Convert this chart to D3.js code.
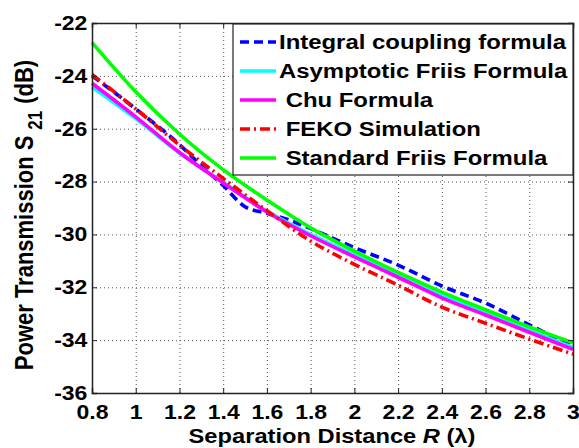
<!DOCTYPE html>
<html>
<head>
<meta charset="utf-8">
<script src="https://cdn.jsdelivr.net/npm/d3@7"></script>
<style>
  body { margin: 0; background: #fff; }
  svg text { font-family: "Liberation Sans", Arial, sans-serif; font-weight: bold; fill: #000; }
  .grid line { stroke: #555; stroke-dasharray: 1,3; stroke-width: 1; }
  .grid path { display: none; }
</style>
</head>
<body>
<div class="chart"></div>
<script>
// values
var distance = [0.8, 1.0, 1.2, 1.4, 1.6, 1.8, 2.0, 2.2, 2.4, 2.6, 2.8, 3.0];
var distanceIntegral = [0.8, 1.0, 1.2, 1.3, 1.4, 1.5, 1.6, 1.7, 1.8, 2.0, 2.2, 2.4, 2.6, 2.8, 3.0];

var integralCoupling = [-24.0, -25.25, -26.6, -27.4, -28.15, -28.95, -29.2, -29.45, -29.78, -30.5, -31.16, -31.95, -32.6, -33.42, -34.25];
var asymptoticFriis = [-24.42, -25.62, -26.92, -28.03, -29.12, -30.0, -30.78, -31.56, -32.32, -32.98, -33.63, -34.28];
var chuFormula = [-24.28, -25.55, -26.9, -28.05, -29.15, -30.05, -30.85, -31.62, -32.4, -33.05, -33.7, -34.35];
var fekoSim = [-23.95, -25.25, -26.62, -27.88, -29.1, -30.25, -31.13, -31.92, -32.75, -33.36, -33.96, -34.53];
var standardFriis = [-22.74, -24.6, -26.2, -27.55, -28.7, -29.75, -30.63, -31.44, -32.18, -32.85, -33.5, -34.1];

var xTicks = [0.8, 1, 1.2, 1.4, 1.6, 1.8, 2, 2.2, 2.4, 2.6, 2.8, 3];
var yTicks = [-36, -34, -32, -30, -28, -26, -24, -22];

var seriesNames = ["Integral coupling formula", "Asymptotic Friis Formula", " Chu Formula", " FEKO Simulation", " Standard Friis Formula"];

var margin = {top: 23, right: 6, bottom: 55, left: 92},
  width = 579 - margin.left - margin.right,
  height = 448 - margin.top - margin.bottom;

var stretch = 1.15; // the picture is a bit wider than tall

var svg = d3.select(".chart").append("svg").attr("width", 579).attr("height", 448)
  .append("g").attr("transform", "translate(" + margin.left + "," + margin.top + ")");

var x = d3.scaleLinear().domain([0.8, 3]).range([0, width]);
var y = d3.scaleLinear().domain([-36, -22]).range([height, 0]);

// grid
svg.append("g").attr("class", "grid").attr("transform", "translate(0," + height + ")")
  .call(d3.axisBottom(x).tickValues(xTicks.slice(1, -1)).tickSize(-height).tickFormat(""));
svg.append("g").attr("class", "grid")
  .call(d3.axisLeft(y).tickValues(yTicks.slice(1, -1)).tickSize(-width).tickFormat(""));

var lines = [
  {xs: distanceIntegral, ys: integralCoupling, color: "#0000ff", dash: "9,5"},
  {xs: distance, ys: asymptoticFriis, color: "#00ffff", dash: null},
  {xs: distance, ys: chuFormula, color: "#ff00ff", dash: null},
  {xs: distance, ys: fekoSim, color: "#ff0000", dash: "10,4,2,4"},
  {xs: distance, ys: standardFriis, color: "#00ff00", dash: null}
];

var line = d3.line().curve(d3.curveMonotoneX)
  .x(function(d) { return x(d[0]); })
  .y(function(d) { return y(d[1]); });

lines.forEach(function(s) {
  svg.append("path")
    .datum(s.xs.map(function(v, i) { return [v, s.ys[i]]; }))
    .attr("fill", "none").attr("stroke", s.color).attr("stroke-width", 3.6)
    .attr("stroke-dasharray", s.dash)
    .attr("d", line);
});

// box with inward ticks on all sides
var bottom = svg.append("g").attr("transform", "translate(0," + height + ")")
  .call(d3.axisBottom(x).tickValues(xTicks).tickSize(-5).tickPadding(9).tickFormat(function(d) { return String(d); }));
var left = svg.append("g")
  .call(d3.axisLeft(y).tickValues(yTicks).tickSize(-5).tickPadding(4).tickFormat(function(d) { return String(d); }));
svg.append("g").call(d3.axisTop(x).tickValues(xTicks).tickSize(-5).tickFormat(""));
svg.append("g").attr("transform", "translate(" + width + ",0)")
  .call(d3.axisRight(y).tickValues(yTicks).tickSize(-5).tickFormat(""));

svg.selectAll(".domain").attr("stroke", "#222").attr("stroke-width", 1.5);
svg.selectAll(".tick line").filter(function() { return !this.closest(".grid"); }).attr("stroke", "#222");

bottom.selectAll("text").style("font-size", "20px").attr("dy", "0.85em")
  .attr("transform", "scale(" + stretch + ",1)");
left.selectAll("text").style("font-size", "20px")
  .attr("transform", "scale(" + stretch + ",1)");

// axis titles
var xl = svg.append("text").attr("text-anchor", "middle")
  .attr("transform", "translate(" + (width / 2 - 0.5) + "," + (height + 50) + ") scale(" + stretch + ",1)")
  .style("font-size", "20.6px");
xl.append("tspan").text("Separation Distance ");
xl.append("tspan").style("font-style", "italic").text("R");
xl.append("tspan").text(" (\u03bb)");

var yl = svg.append("text").attr("text-anchor", "middle")
  .attr("transform", "translate(" + (-59) + "," + (height / 2 + 7) + ") scale(" + stretch + ",1) rotate(-90)")
  .style("font-size", "22px");
yl.append("tspan").text("Power Transmission S");
yl.append("tspan").attr("dy", 8).attr("dx", 6).style("font-size", "17px").text("21");
yl.append("tspan").attr("dy", -8).attr("dx", 7).text("(dB)");

// legend
var lg = svg.append("g").attr("transform", "translate(" + (x(0.8) + 141) + ",1)");
lg.append("rect").attr("width", width - 141).attr("height", 151)
  .attr("fill", "#fff").attr("stroke", "#222").attr("stroke-width", 1.2);

var item = lg.selectAll(".item").data(lines).enter().append("g")
  .attr("transform", function(d, i) { return "translate(0," + (18 + i * 29) + ")"; });
item.append("line").attr("x1", 7).attr("x2", 43)
  .attr("stroke", function(d) { return d.color; }).attr("stroke-width", 3.6)
  .attr("stroke-dasharray", function(d) { return d.dash; });
item.append("text").attr("dy", "0.35em").style("font-size", "20.8px").style("white-space", "pre")
  .attr("transform", "translate(46,0) scale(" + stretch + ",1)")
  .text(function(d, i) { return seriesNames[i]; });
</script>
</body>
</html>
